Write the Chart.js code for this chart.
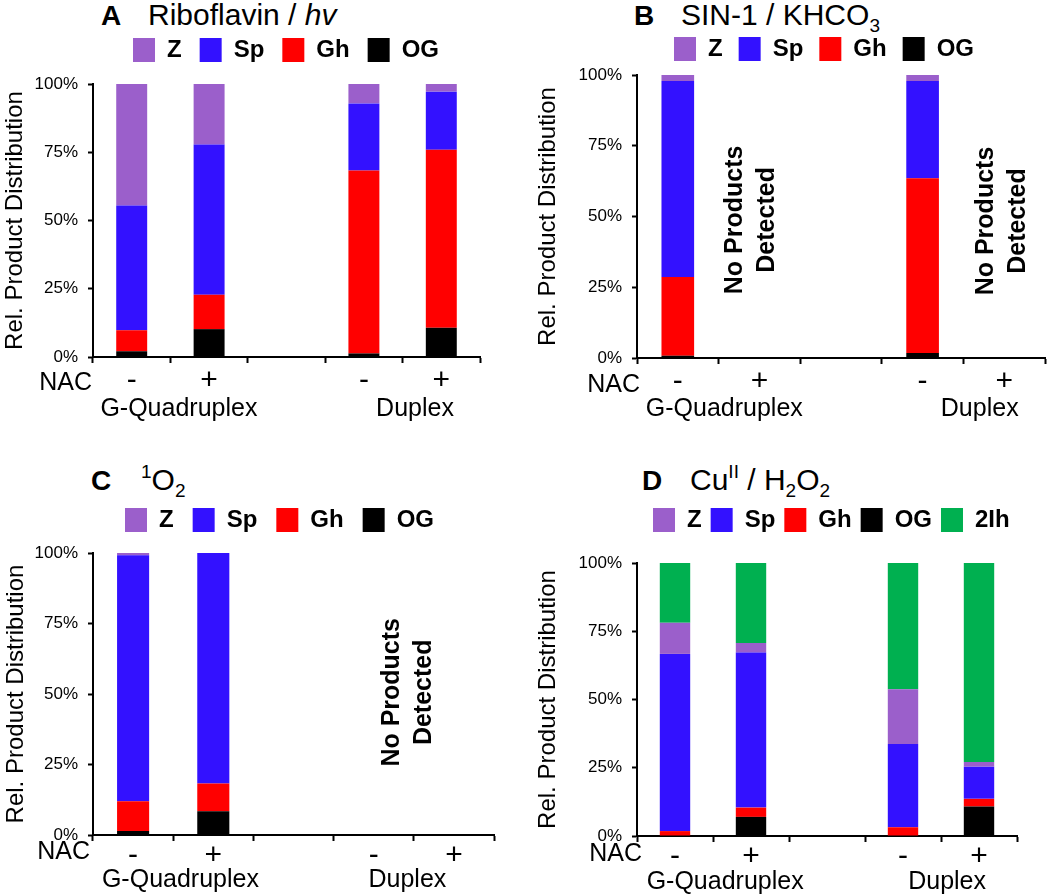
<!DOCTYPE html>
<html>
<head>
<meta charset="utf-8">
<script src="https://cdn.jsdelivr.net/npm/chart.js@4.4.1/dist/chart.umd.min.js"></script>
<style>
  html, body { margin: 0; padding: 0; background: #fff; }
  body { width: 1050px; height: 894px; position: relative; overflow: hidden;
         font-family: 'Liberation Sans', Arial, sans-serif; color: #000; }
  canvas { position: absolute; }
  .ttl { position: absolute; font-size: 30px; line-height: 30px; white-space: pre; }
  .ttl b { font-size: 28px; }
  .ttl .sup { font-size: 19px; position: relative; top: -12px; }
  .ttl .sub { font-size: 19px; position: relative; top: 7px; }
</style>
</head>
<body>
<div class="ttl" style="left:101px;top:0px"><b>A</b></div>
<div class="ttl" style="left:148px;top:0px">Riboflavin / <i>hv</i></div>
<div class="ttl" style="left:634px;top:0px"><b>B</b></div>
<div class="ttl" style="left:681px;top:0px">SIN-1 / KHCO<span class="sub">3</span></div>
<div class="ttl" style="left:91px;top:465px"><b>C</b></div>
<div class="ttl" style="left:141px;top:465px"><span class="sup">1</span>O<span class="sub">2</span></div>
<div class="ttl" style="left:642px;top:465px"><b>D</b></div>
<div class="ttl" style="left:690px;top:465px">Cu<span class="sup">II</span> / H<span class="sub">2</span>O<span class="sub">2</span></div>

<canvas id="panelA" width="525" height="447" style="left:0;top:0"></canvas>
<canvas id="panelB" width="525" height="447" style="left:525px;top:0"></canvas>
<canvas id="panelC" width="525" height="447" style="left:0;top:447px"></canvas>
<canvas id="panelD" width="525" height="447" style="left:525px;top:447px"></canvas>

<script>
const FONT = "'Liberation Sans', Arial, sans-serif";

// categories: NAC -/+ for G-Quadruplex, gap, NAC -/+ for Duplex
const NAC_LABELS = ['-', '+', '', '-', '+'];
const GROUP_LABELS = ['G-Quadruplex', 'Duplex'];
const NOTE_LINES = ['No Products', 'Detected'];
const LEGEND_ORDER = ['Z', 'Sp', 'Gh', 'OG', '2Ih'];
const COLORS = { Z: '#9B5FCB', Sp: '#3311FF', Gh: '#FF0000', OG: '#000000', '2Ih': '#00B050' };

// A  Riboflavin / hv  (% of products, bottom -> top)
const A_OG = [2.1, 10.2, null, 1.3, 10.7];
const A_Gh = [7.7, 12.6, null, 67.0, 65.2];
const A_Sp = [45.7, 55.0, null, 24.6, 21.3];
const A_Z  = [44.5, 22.2, null, 7.1, 2.8];

// B  SIN-1 / KHCO3
const B_OG = [0.8, null, null, 1.8, null];
const B_Gh = [27.8, null, null, 61.7, null];
const B_Sp = [69.3, null, null, 34.4, null];
const B_Z  = [2.1, null, null, 2.1, null];

// C  1O2
const C_OG = [1.4, 8.4, null, null, null];
const C_Gh = [10.6, 9.9, null, null, null];
const C_Sp = [87.2, 81.7, null, null, null];
const C_Z  = [0.8, 0, null, null, null];

// D  CuII / H2O2
const D_OG  = [0, 7.0, null, 0, 10.8];
const D_Gh  = [1.8, 3.4, null, 3.2, 2.8];
const D_Sp  = [64.9, 56.8, null, 30.5, 11.8];
const D_Z   = [11.4, 3.5, null, 20.1, 1.7];
const D_2Ih = [21.9, 29.3, null, 46.2, 72.9];

// moves the legend so its first box sits where the figure has it
const legendNudge = {
  id: 'legendNudge',
  afterLayout(chart, args, opts) {
    const lg = chart.legend;
    if (!lg || !opts.at) return;
    const pad = lg.options.labels.padding;
    const startX = (lg.left + pad + lg.right - lg.lineWidths[0]) / 2;
    const dx = opts.at[0] - startX;
    const dy = opts.at[1] - (lg.top + pad);
    lg.left += dx; lg.right += dx;
    lg.top += dy; lg.bottom += dy;
  }
};

// NAC caption, group names under the axis, and "No Products Detected" notes
const panelText = {
  id: 'panelText',
  afterDraw(chart, args, o) {
    const { ctx, chartArea } = chart;
    const x = chart.scales.x, y = chart.scales.y;
    ctx.save();
    ctx.fillStyle = '#000';
    ctx.font = '25px ' + FONT;
    ctx.textAlign = 'right';
    ctx.textBaseline = 'middle';
    ctx.fillText('NAC', chartArea.left + o.nac[0], chartArea.bottom + o.nac[1]);
    ctx.textAlign = 'center';
    ctx.textBaseline = 'alphabetic';
    o.groups.forEach((g, i) => ctx.fillText(GROUP_LABELS[i], x.getPixelForValue(g), chartArea.bottom + o.groupDy));
    ctx.font = 'bold 25px ' + FONT;
    ctx.textBaseline = 'middle';
    (o.notes || []).forEach(n => {
      ctx.save();
      ctx.translate(x.getPixelForValue(n[0]), y.getPixelForValue(n[1]));
      ctx.rotate(-Math.PI / 2);
      NOTE_LINES.forEach((t, k) => ctx.fillText(t, 0, (k - 0.5) * 32));
      ctx.restore();
    });
    ctx.restore();
  }
};

function makePanel(id, series, P) {
  const [left, right, top, bottom] = P.area;
  new Chart(document.getElementById(id), {
    type: 'bar',
    data: {
      labels: NAC_LABELS,
      datasets: series.map(([name, vals]) => ({
        label: name, data: vals, backgroundColor: COLORS[name],
        borderWidth: 0, barPercentage: 0.4, categoryPercentage: 1,
      })),
    },
    options: {
      responsive: false, animation: false, events: [],
      layout: { padding: { left: P.padL, right: 525 - right, top: top - (34 + P.legendPad), bottom: 0 } },
      plugins: {
        tooltip: { enabled: false },
        legend: {
          position: 'top', fullSize: false,
          labels: {
            boxWidth: 22, boxHeight: 24, padding: P.legendPad, color: '#000',
            font: { family: FONT, size: 24, weight: 'bold' },
            sort: (a, b) => LEGEND_ORDER.indexOf(a.text) - LEGEND_ORDER.indexOf(b.text),
          },
        },
        legendNudge: { at: P.legendAt },
        panelText: { nac: P.nac, groups: P.groups, groupDy: P.groupDy, notes: P.notes },
      },
      scales: {
        x: {
          stacked: true,
          afterFit: s => { s.height = 447 - bottom; },
          border: { color: '#000', width: 2 },
          grid: { display: true, drawOnChartArea: false, drawTicks: true, tickLength: 6, tickWidth: 2, tickColor: '#000', offset: true },
          ticks: { color: '#000', font: { family: FONT, size: 30, lineHeight: 1 }, padding: P.tickPad, autoSkip: false, maxRotation: 0 },
        },
        y: {
          stacked: true, min: 0, max: 100,
          afterFit: s => { s.width = left - P.padL; },
          border: { color: '#000', width: 2 },
          grid: { display: true, drawOnChartArea: false, drawTicks: true, tickLength: 5, tickWidth: 2, tickColor: '#000' },
          ticks: { stepSize: 25, callback: v => v + '%', color: '#000', font: { family: FONT, size: 17 }, padding: 10 },
          title: { display: true, text: 'Rel. Product Distribution', color: '#000', font: { family: FONT, size: 24 }, padding: 0 },
        },
      },
    },
    plugins: [legendNudge, panelText],
  });
}

makePanel('panelA', [['OG', A_OG], ['Gh', A_Gh], ['Sp', A_Sp], ['Z', A_Z]], {
  area: [93, 480, 84, 357], padL: 1, legendPad: 18, legendAt: [133, 38], tickPad: 3,
  nac: [-1, 26], groups: [0.61, 3.66], groupDy: 59,
});
makePanel('panelB', [['OG', B_OG], ['Gh', B_Gh], ['Sp', B_Sp], ['Z', B_Z]], {
  area: [112, 520, 75, 358], padL: 9, legendPad: 16, legendAt: [149, 37], tickPad: 3,
  nac: [3, 27], groups: [0.57, 3.70], groupDy: 58, notes: [[0.90, 48.8], [3.98, 48.4]],
});
makePanel('panelC', [['OG', C_OG], ['Gh', C_Gh], ['Sp', C_Sp], ['Z', C_Z]], {
  area: [93, 494, 106, 388], padL: 2, legendPad: 19, legendAt: [125, 61], tickPad: 0,
  nac: [-3, 17], groups: [0.59, 3.42], groupDy: 52, notes: [[3.43, 50.6]],
});
makePanel('panelD', [['OG', D_OG], ['Gh', D_Gh], ['Sp', D_Sp], ['Z', D_Z], ['2Ih', D_2Ih]], {
  area: [112, 492, 116, 389], padL: 9, legendPad: 9, legendAt: [128, 61], tickPad: 0,
  nac: [5, 18], groups: [0.66, 3.58], groupDy: 53,
});
</script>
</body>
</html>
